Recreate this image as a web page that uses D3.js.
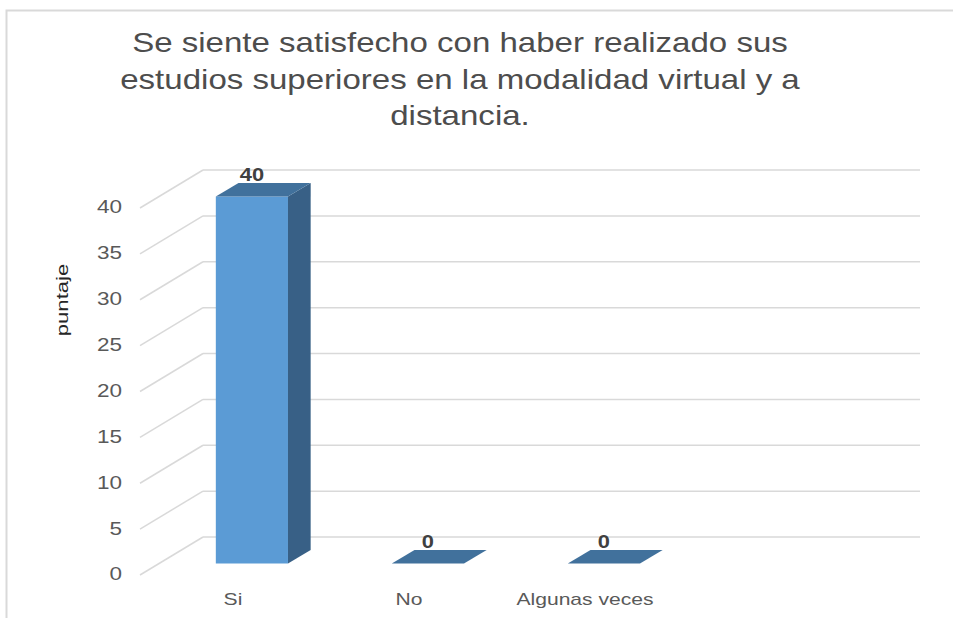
<!DOCTYPE html>
<html>
<head>
<meta charset="utf-8">
<script src="https://cdn.jsdelivr.net/npm/d3@7"></script>
<style>
  body { margin: 0; background: #fff; }
  text { font-family: "Liberation Sans", Arial, sans-serif; }
</style>
</head>
<body>
<div id="chart"></div>
<script>
const categories = ["Si", "No", "Algunas veces"];
const values = [40, 0, 0];
const yTicks = [0, 5, 10, 15, 20, 25, 30, 35, 40];
const titleLines = [
    "Se siente satisfecho con haber realizado sus",
    "estudios superiores en la modalidad virtual y a",
    "distancia."
];
const yTitle = "puntaje";

const width = 953;
const height = 618;

// depth of the 3d floor and where the bars sit inside it
const depth = {dx: 63, dy: -38};
const barFront = 0.3;
const barBack = 0.66;
const wallRight = 920;

// the original picture is stretched sideways, so text is widened a bit
function widen(sel, k) {
    sel.each(function() {
        const len = this.getComputedTextLength();
        d3.select(this)
          .attr("textLength", len * k)
          .attr("lengthAdjust", "spacingAndGlyphs");
    });
}

const svg = d3.select("#chart")
              .append("svg")
              .attr("width", width)
              .attr("height", height);

// chart border (only top and left are in view)
svg.append("rect")
   .attr("x", 6.5)
   .attr("y", 10.5)
   .attr("width", 980)
   .attr("height", 640)
   .attr("fill", "none")
   .attr("stroke", "#d9d9d9")
   .attr("stroke-width", 2);

const y = d3.scaleLinear()
            .domain([0, 40])
            .range([575, 208]);

const x = d3.scaleBand()
            .domain(categories)
            .range([145, 673])
            .paddingInner(0.59)
            .paddingOuter(0.295);

const x0 = 140;

// gridlines: diagonal on the side wall, then flat on the back wall
const grid = svg.append("g").attr("class", "grid");

grid.selectAll(".diag")
    .data(yTicks)
    .enter()
    .append("line")
    .attr("x1", x0)
    .attr("y1", function(d) { return y(d); })
    .attr("x2", x0 + depth.dx)
    .attr("y2", function(d) { return y(d) + depth.dy; })
    .attr("stroke", "#d9d9d9")
    .attr("stroke-width", 1.5);

grid.selectAll(".back")
    .data(yTicks)
    .enter()
    .append("line")
    .attr("x1", x0 + depth.dx)
    .attr("y1", function(d) { return y(d) + depth.dy; })
    .attr("x2", wallRight)
    .attr("y2", function(d) { return y(d) + depth.dy; })
    .attr("stroke", "#d9d9d9")
    .attr("stroke-width", 1.5);

// y tick labels
svg.append("g")
   .selectAll("text")
   .data(yTicks)
   .enter()
   .append("text")
   .attr("x", 122)
   .attr("y", function(d) { return y(d); })
   .attr("dy", "0.3em")
   .attr("text-anchor", "end")
   .attr("font-size", 18)
   .attr("fill", "#595959")
   .text(function(d) { return d; })
   .call(widen, 1.25);

svg.append("text")
   .attr("transform", "translate(68,300) rotate(-90)")
   .attr("text-anchor", "middle")
   .attr("font-size", 17)
   .attr("fill", "#262626")
   .text(yTitle)
   .call(widen, 1.3);

// bars as three faces
const data = categories.map(function(c, i) { return {name: c, value: values[i]}; });
const bw = x.bandwidth();

function corner(d, side, f, v) {
    return [x(d.name) + side * bw + f * depth.dx, y(v) + f * depth.dy];
}

function poly(pts) {
    return "M" + pts.map(function(p) { return p.join(","); }).join("L") + "Z";
}

const bars = svg.selectAll(".bar")
                .data(data)
                .enter()
                .append("g")
                .attr("class", "bar");

bars.append("path")
    .attr("d", function(d) {
        return poly([corner(d, 0, barFront, 0), corner(d, 1, barFront, 0),
                     corner(d, 1, barFront, d.value), corner(d, 0, barFront, d.value)]);
    })
    .attr("fill", "#5b9bd5");

bars.append("path")
    .attr("d", function(d) {
        return poly([corner(d, 1, barFront, 0), corner(d, 1, barBack, 0),
                     corner(d, 1, barBack, d.value), corner(d, 1, barFront, d.value)]);
    })
    .attr("fill", "#386086");

bars.append("path")
    .attr("d", function(d) {
        return poly([corner(d, 0, barFront, d.value), corner(d, 1, barFront, d.value),
                     corner(d, 1, barBack, d.value), corner(d, 0, barBack, d.value)]);
    })
    .attr("fill", "#41719c");

bars.append("text")
    .attr("x", function(d) { return x(d.name) + bw / 2 + barFront * depth.dx; })
    .attr("y", function(d) { return y(d.value) + barBack * depth.dy - 2; })
    .attr("text-anchor", "middle")
    .attr("font-size", 19)
    .attr("font-weight", "bold")
    .attr("fill", "#404040")
    .text(function(d) { return d.value; })
    .call(widen, 1.15);

// category labels
svg.append("g")
   .selectAll("text")
   .data(categories)
   .enter()
   .append("text")
   .attr("x", function(d) { return x(d) + bw / 2; })
   .attr("y", 605)
   .attr("text-anchor", "middle")
   .attr("font-size", 17)
   .attr("fill", "#595959")
   .text(function(d) { return d; })
   .call(widen, 1.24);

// title
svg.append("g")
   .selectAll("text")
   .data(titleLines)
   .enter()
   .append("text")
   .attr("x", 460)
   .attr("y", function(d, i) { return 52 + i * 36.5; })
   .attr("text-anchor", "middle")
   .attr("font-size", 28)
   .attr("fill", "#4d4d4d")
   .text(function(d) { return d; })
   .call(widen, 1.18);
</script>
</body>
</html>
